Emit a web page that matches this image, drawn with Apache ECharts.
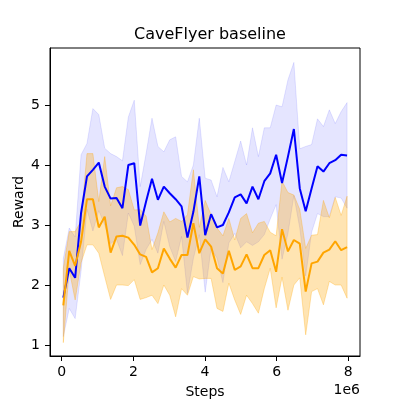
<!DOCTYPE html>
<html>
<head>
<meta charset="utf-8">
<script src="https://cdn.jsdelivr.net/npm/echarts@6/dist/echarts.min.js"></script>
<style>
  html, body { margin: 0; padding: 0; background: #fff; }
  #container { width: 400px; height: 400px; }
</style>
</head>
<body>
<div id="container"></div>
<script>
// training steps at each logged point
var steps = [45000, 210000, 375000, 540000, 705000, 870000, 1035000, 1200000, 1365000, 1530000,
  1695000, 1860000, 2025000, 2190000, 2355000, 2520000, 2685000, 2850000, 3015000, 3180000,
  3345000, 3510000, 3675000, 3840000, 4005000, 4170000, 4335000, 4500000, 4665000, 4830000,
  4995000, 5160000, 5325000, 5490000, 5655000, 5820000, 5985000, 6150000, 6315000, 6480000,
  6645000, 6810000, 6975000, 7140000, 7305000, 7470000, 7635000, 7800000, 7965000];

// blue run: mean reward and spread
var blueMean = [1.79, 2.28, 2.12, 3.2, 3.81, 3.92, 4.04, 3.64, 3.44, 3.45,
  3.28, 4.0, 4.03, 2.99, 3.39, 3.77, 3.42, 3.64, 3.53, 3.43,
  3.31, 2.79, 3.22, 3.81, 2.83, 3.18, 2.96, 3.0, 3.21, 3.46,
  3.51, 3.36, 3.64, 3.43, 3.73, 3.86, 4.17, 3.7, 4.14, 4.6,
  3.61, 3.23, 3.61, 3.98, 3.89, 4.03, 4.08, 4.17, 4.16];
var blueStd = [0.65, 0.67, 0.68, 0.97, 0.55, 1.02, 0.80, 0.64, 0.75, 0.69,
  0.79, 0.80, 1.05, 0.65, 0.80, 1.01, 0.89, 0.58, 0.89, 1.04,
  0.50, 0.93, 0.78, 0.97, 0.95, 0.57, 0.51, 0.96, 0.51, 0.60,
  0.89, 0.64, 0.98, 0.71, 0.89, 0.76, 0.83, 1.27, 1.28, 1.11,
  0.66, 1.08, 0.73, 0.79, 0.75, 0.89, 0.61, 0.72, 0.88];

// orange run
var orangeMean = [1.66, 2.57, 2.32, 2.72, 3.43, 3.43, 2.96, 3.14, 2.54, 2.81,
  2.82, 2.79, 2.67, 2.51, 2.47, 2.21, 2.28, 2.61, 2.44, 2.29,
  2.50, 2.50, 3.03, 2.53, 2.76, 2.64, 2.28, 2.19, 2.57, 2.25,
  2.31, 2.51, 2.28, 2.28, 2.50, 2.58, 2.22, 2.93, 2.56, 2.75,
  2.69, 1.89, 2.36, 2.39, 2.54, 2.59, 2.73, 2.58, 2.63];
var orangeStd = [0.62, 0.32, 0.57, 0.35, 0.76, 0.76, 0.43, 1.0, 0.78, 0.81,
  0.82, 0.8, 0.58, 0.75, 0.68, 0.38, 0.59, 0.61, 0.61, 0.82,
  0.56, 0.67, 0.89, 0.43, 0.65, 0.53, 0.67, 0.63, 0.54, 0.5,
  0.8, 0.68, 0.59, 0.75, 0.56, 0.3, 0.6, 0.8, 0.98, 0.75,
  0.57, 0.72, 0.47, 0.45, 0.87, 0.53, 0.73, 0.58, 0.85];

var xTicks = [0, 2000000, 4000000, 6000000, 8000000];
var yTicks = [1, 2, 3, 4, 5];

var FONT = 'DejaVu Sans';

function pairs(mean){
  var out = [];
  for (var i = 0; i < steps.length; i++) {
    out.push([steps[i], mean[i]]);
  }
  return out;
}

// shaded mean +/- std band, drawn as one polygon through the axes
function band(mean, std, fill){
  return {
    type: 'custom',
    silent: true,
    z: 1,
    data: [[steps[0], mean[0]]],
    renderItem: function (params, api) {
      var pts = [];
      for (var i = 0; i < steps.length; i++) {
        pts.push(api.coord([steps[i], mean[i] + std[i]]));
      }
      for (var j = steps.length - 1; j >= 0; j--) {
        pts.push(api.coord([steps[j], mean[j] - std[j]]));
      }
      return {
        type: 'polygon',
        shape: { points: pts },
        style: { fill: fill, stroke: fill, lineWidth: 1 }
      };
    }
  };
}

function line(mean, color){
  return {
    type: 'line',
    z: 3,
    data: pairs(mean),
    showSymbol: false,
    symbol: 'none',
    lineStyle: { color: color, width: 2 },
    itemStyle: { color: color }
  };
}

var myChart = echarts.init(document.getElementById('container'));

var option = {
  animation: false,
  backgroundColor: '#ffffff',
  textStyle: { fontFamily: FONT },
  title: {
    text: 'CaveFlyer baseline',
    left: 205,
    textAlign: 'center',
    top: 22,
    textStyle: { fontFamily: FONT, fontSize: 16, fontWeight: 'normal', color: '#000' }
  },
  grid: {
    left: 50,
    right: 40,
    top: 48,
    bottom: 44,
    outerBoundsMode: 'none',
    containLabel: false,
    show: true,
    borderColor: '#000',
    borderWidth: 1,
    backgroundColor: 'transparent'
  },
  xAxis: {
    type: 'value',
    min: -327000,
    max: 8326000,
    name: 'Steps',
    nameLocation: 'middle',
    nameGap: 29,
    nameTextStyle: { fontFamily: FONT, fontSize: 14, color: '#000' },
    axisLine: { onZero: false, lineStyle: { color: '#000', width: 1 } },
    axisTick: { customValues: xTicks, length: 5, lineStyle: { color: '#000' } },
    axisLabel: {
      customValues: xTicks,
      margin: 9,
      fontFamily: FONT,
      fontSize: 14,
      color: '#000',
      formatter: function (v) { return String(v / 1000000); }
    },
    splitLine: { show: false }
  },
  yAxis: {
    type: 'value',
    min: 0.817,
    max: 5.95,
    name: 'Reward',
    nameLocation: 'middle',
    nameGap: 24,
    nameMoveOverlap: false,
    nameTextStyle: { fontFamily: FONT, fontSize: 14, color: '#000' },
    axisLine: { show: true, onZero: false, lineStyle: { color: '#000', width: 1 } },
    axisTick: { show: true, customValues: yTicks, length: 5, lineStyle: { color: '#000' } },
    axisLabel: {
      customValues: yTicks,
      margin: 10,
      fontFamily: FONT,
      fontSize: 14,
      color: '#000'
    },
    splitLine: { show: false }
  },
  graphic: [
    {
      type: 'text',
      right: 40,
      top: 383,
      style: { text: '1e6', fontFamily: FONT, fontSize: 14, fill: '#000' }
    }
  ],
  series: [
    band(blueMean, blueStd, 'rgba(0,0,255,0.1)'),
    band(orangeMean, orangeStd, 'rgba(255,165,0,0.3)'),
    line(blueMean, '#0000ff'),
    line(orangeMean, '#ffa500')
  ]
};

myChart.setOption(option);
</script>
</body>
</html>
